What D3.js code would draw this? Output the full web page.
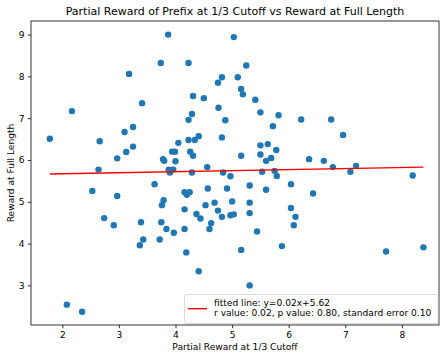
<!DOCTYPE html>
<html>
<head>
<meta charset="utf-8">
<script src="https://cdn.jsdelivr.net/npm/d3@7"></script>
<style>
  html, body { margin: 0; padding: 0; background: #fff; }
  svg { display: block; font-family: "DejaVu Sans", sans-serif; }
</style>
</head>
<body>
<svg id="chart" width="448" height="361"></svg>
<script>
const xValues = [3.87,3.74,3.18,3.41,2.17,1.78,2.66,3.25,3.10,3.25,3.13,2.97,2.64,4.05,3.94,3.99,3.78,3.80,3.88,3.96,
  3.90,4.00,3.63,2.53,2.97,3.79,3.76,2.74,2.91,3.39,3.75,3.84,3.97,3.43,3.37,3.72,2.08,2.35,5.03,4.23,
  5.25,4.82,4.75,5.10,5.16,5.19,4.31,4.50,5.41,4.76,5.50,4.29,4.23,4.88,5.82,6.22,5.72,4.82,4.23,4.34,
  4.41,4.26,4.31,5.16,5.50,5.63,5.50,5.78,5.69,5.60,4.56,6.36,4.29,4.84,4.97,5.53,5.75,5.79,5.31,6.04,
  4.57,4.91,5.60,4.16,4.20,4.25,5.31,5.00,4.69,4.53,4.75,4.16,4.37,4.44,4.82,4.97,5.03,5.31,6.04,6.12,
  6.09,4.63,4.60,4.16,5.44,5.16,5.88,4.19,4.41,5.31,6.75,6.96,6.62,6.78,7.19,7.09,8.19,6.43,7.72,8.38];
const yValues = [9.00,8.32,8.06,7.36,7.17,6.51,6.45,6.79,6.67,6.32,6.19,6.04,5.77,6.41,6.20,6.20,6.02,5.98,5.77,5.77,
  5.70,5.97,5.42,5.26,5.14,5.04,4.92,4.61,4.44,4.51,4.51,4.35,4.26,4.10,3.96,4.10,2.54,2.37,8.94,8.32,
  8.26,7.98,7.85,7.98,7.70,7.57,7.53,7.48,7.44,7.25,7.14,7.10,6.96,6.95,7.07,6.97,6.81,6.54,6.48,6.48,
  6.57,6.20,6.10,6.10,6.35,6.38,6.13,6.24,6.05,5.98,5.83,6.02,5.70,5.70,5.61,5.72,5.74,5.62,5.39,5.42,
  5.32,5.32,5.29,5.23,5.17,5.23,4.98,5.01,4.98,4.92,4.79,4.82,4.71,4.60,4.64,4.68,4.70,4.73,4.85,4.64,
  4.44,4.49,4.35,4.35,4.29,3.85,3.94,3.79,3.34,3.00,6.97,6.60,5.98,5.83,5.86,5.72,5.63,5.20,3.81,3.91];
const xTicks = [2,3,4,5,6,7,8];
const yTicks = [3,4,5,6,7,8,9];
const fitSlope = 0.025;
const fitIntercept = 5.62;
const titleText = "Partial Reward of Prefix at 1/3 Cutoff vs Reward at Full Length";
const xLabel = "Partial Reward at 1/3 Cutoff";
const yLabel = "Reward at Full Length";
const legendLines = ["fitted line: y=0.02x+5.62", "r value: 0.02, p value: 0.80, standard error 0.10"];

(function () {
const svg = d3.select("#chart");
const mLeft = 31, mRight = 439, mTop = 21, mBottom = 325;
const fs = 9.1;
const x = d3.scaleLinear().domain([1.447, 8.655]).range([mLeft, mRight]);
const y = d3.scaleLinear().domain([2.053, 9.325]).range([mBottom, mTop]);

const points = xValues.map((v, i) => ({x: v, y: yValues[i]}));

// points
svg.append("g").selectAll("circle").data(points).join("circle")
  .attr("cx", d => x(d.x)).attr("cy", d => y(d.y)).attr("r", 3.2)
  .attr("fill", "#1f77b4");

// fitted line
const xmin = d3.min(xValues), xmax = d3.max(xValues);
svg.append("line")
  .attr("x1", x(xmin)).attr("y1", y(fitSlope * xmin + fitIntercept))
  .attr("x2", x(xmax)).attr("y2", y(fitSlope * xmax + fitIntercept))
  .attr("stroke", "#ff0000").attr("stroke-width", 1.4);

// axes
const xAxis = svg.append("g").attr("transform", `translate(0,${mBottom})`)
  .call(d3.axisBottom(x).tickValues(xTicks).tickSize(3.2).tickPadding(3.2).tickFormat(d3.format("d")));
const yAxis = svg.append("g").attr("transform", `translate(${mLeft},0)`)
  .call(d3.axisLeft(y).tickValues(yTicks).tickSize(3.2).tickPadding(3.2).tickFormat(d3.format("d")));
[xAxis, yAxis].forEach(g => {
  g.select(".domain").remove();
  g.selectAll("line").attr("stroke", "#000").attr("stroke-width", 0.8);
  g.selectAll("text").attr("font-size", fs).attr("fill", "#000").attr("font-family", "DejaVu Sans");
});

// frame
svg.append("rect").attr("x", mLeft).attr("y", mTop).attr("width", mRight - mLeft).attr("height", mBottom - mTop)
  .attr("fill", "none").attr("stroke", "#000").attr("stroke-width", 0.8);

// legend
const lg = svg.append("g");
lg.append("rect").attr("x", 184.5).attr("y", 294.5).attr("width", 253.5).attr("height", 29).attr("rx", 2)
  .attr("fill", "#fff").attr("fill-opacity", 0.8).attr("stroke", "#d0d0d0").attr("stroke-width", 0.8);
lg.append("line").attr("x1", 188).attr("x2", 207).attr("y1", 308.7).attr("y2", 308.7)
  .attr("stroke", "#ff0000").attr("stroke-width", 1.4);
lg.selectAll("text").data(legendLines).join("text")
  .attr("x", 214).attr("y", (d, i) => 305.5 + i * 10.2)
  .attr("font-size", fs).attr("fill", "#000").text(d => d);

// title and labels
svg.append("text").attr("x", (mLeft + mRight) / 2).attr("y", 15).attr("text-anchor", "middle")
  .attr("font-size", 11).attr("fill", "#000").text(titleText);
svg.append("text").attr("x", (mLeft + mRight) / 2).attr("y", 350).attr("text-anchor", "middle")
  .attr("font-size", fs).attr("fill", "#000").text(xLabel);
svg.append("text").attr("transform", `translate(14,${(mTop + mBottom) / 2}) rotate(-90)`)
  .attr("text-anchor", "middle").attr("font-size", fs).attr("fill", "#000").text(yLabel);
})();
</script>
</body>
</html>
